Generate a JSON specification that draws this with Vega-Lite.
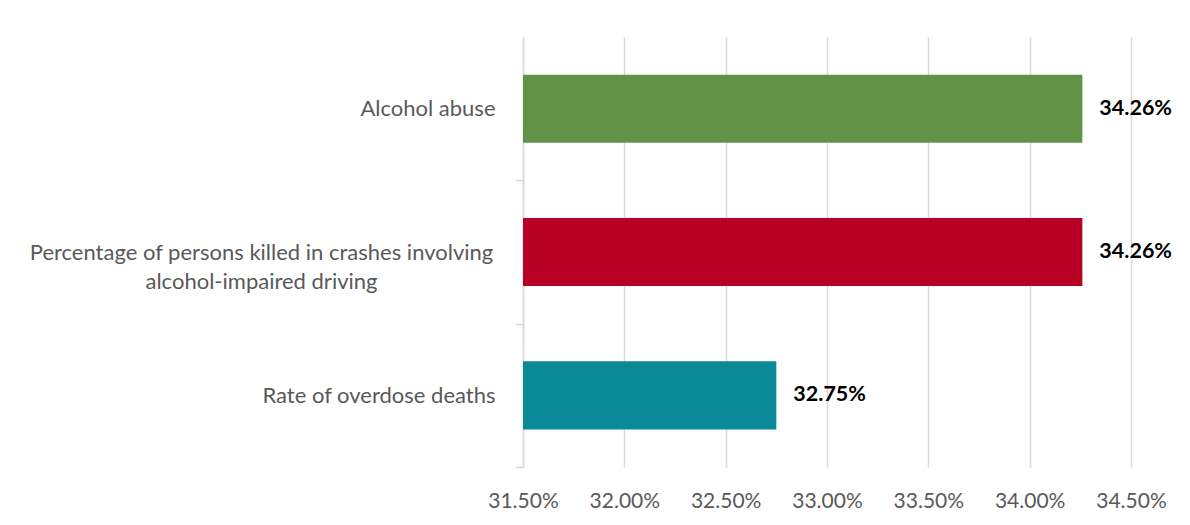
{
  "$schema": "https://vega.github.io/schema/vega-lite/v6.json",
  "autosize": "none",
  "padding": {"left": 523, "top": 37, "right": 59, "bottom": 58},
  "width": 608,
  "height": 430,
  "background": "white",
  "config": {"view": {"stroke": null}, "font": "Lato"},
  "data": {
    "values": [
      {"measure": "Alcohol abuse", "value": 0.3426},
      {"measure": "Percentage of persons killed in crashes involving alcohol-impaired driving", "value": 0.3426},
      {"measure": "Rate of overdose deaths", "value": 0.3275}
    ]
  },
  "encoding": {
    "y": {
      "field": "measure",
      "type": "nominal",
      "sort": null,
      "title": null,
      "scale": {"paddingInner": 0.525, "paddingOuter": 0.2625},
      "axis": {
        "tickOffset": 71.67,
        "labelOffset": -71.67,
        "tickSize": 8,
        "tickColor": "#d9d9d9",
        "tickWidth": 1.5,
        "domainColor": "#d9d9d9",
        "domainWidth": 1.5,
        "grid": false,
        "labelFont": "Lato",
        "labelFontSize": 22,
        "labelColor": "#595959",
        "labelLineHeight": 29,
        "labelLimit": 600,
        "labelExpr": "indexof(datum.value, 'Percentage') === 0 ? ['Percentage of persons killed in crashes involving', 'alcohol-impaired driving'] : datum.value",
        "labelAlign": {"condition": {"test": "indexof(datum.value, 'Percentage') === 0", "value": "center"}, "value": "right"},
        "labelPadding": {"condition": {"test": "indexof(datum.value, 'Percentage') === 0", "value": 254}, "value": 20}
      }
    },
    "x": {
      "field": "value",
      "type": "quantitative",
      "title": null,
      "scale": {"domain": [0.315, 0.345], "nice": false, "zero": false},
      "axis": {
        "values": [0.315, 0.32, 0.325, 0.33, 0.335, 0.34, 0.345],
        "format": ".2%",
        "grid": true,
        "gridColor": "#d9d9d9",
        "gridWidth": 1.5,
        "ticks": false,
        "domain": false,
        "labelFont": "Lato",
        "labelFontSize": 21,
        "labelColor": "#595959",
        "labelPadding": 23,
        "labelFlush": false
      }
    }
  },
  "layer": [
    {
      "mark": {"type": "bar"},
      "encoding": {
        "x2": {"datum": 0.315},
        "color": {
          "field": "measure",
          "type": "nominal",
          "scale": {
            "domain": ["Alcohol abuse", "Percentage of persons killed in crashes involving alcohol-impaired driving", "Rate of overdose deaths"],
            "range": ["#629248", "#b80024", "#098a96"]
          },
          "legend": null
        }
      }
    },
    {
      "mark": {"type": "text", "align": "left", "baseline": "middle", "dx": 17, "fontWeight": "bold", "fontSize": 21.5, "font": "Lato", "color": "#000000"},
      "encoding": {"text": {"field": "value", "type": "quantitative", "format": ".2%"}}
    }
  ]
}
